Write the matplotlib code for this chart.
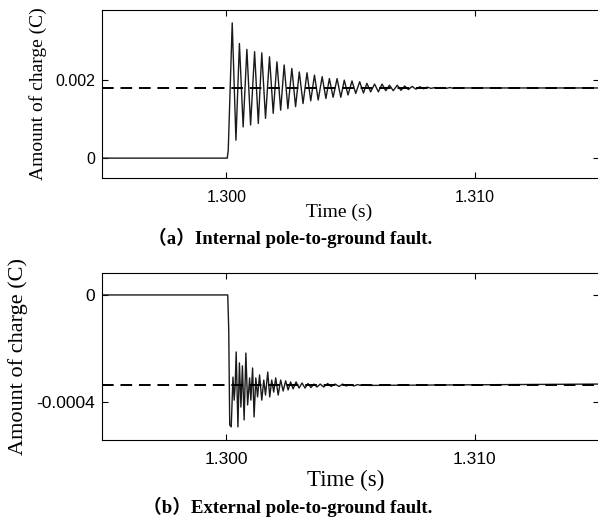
import numpy as np
import matplotlib
matplotlib.use('Agg')
import matplotlib.pyplot as plt

# ---- (a) internal fault: step to 0.0018 C then damped ringing ----
a_pre_t = [1.295, 1.30004, 1.30008]
a_pre_q = [0.0, 0.0, 0.0002]
a_peak_t = [1.30024, 1.30053, 1.30083, 1.30114, 1.30143, 1.30174, 1.30204, 1.30233,
            1.30264, 1.30294, 1.30325, 1.30355, 1.30386, 1.30415, 1.30446, 1.30475,
            1.30506, 1.30537, 1.30566, 1.30597, 1.30627, 1.30657, 1.30688, 1.30718,
            1.30748, 1.30779, 1.30809, 1.30839, 1.30870, 1.30900]
a_peak_q = [0.00347, 0.00294, 0.00279, 0.00273, 0.00270, 0.00260, 0.00247, 0.00239,
            0.00230, 0.00221, 0.00219, 0.00213, 0.00209, 0.00204, 0.00204, 0.00200,
            0.00198, 0.00196, 0.00192, 0.00190, 0.00190, 0.00187, 0.00187, 0.00185,
            0.00184, 0.00183, 0.00182, 0.00181, 0.00181, 0.00181]
a_trough_t = [1.30039, 1.30068, 1.30098, 1.30129, 1.30158, 1.30189, 1.30219, 1.30248,
              1.30279, 1.30309, 1.30340, 1.30370, 1.30401, 1.30430, 1.30461, 1.30490,
              1.30521, 1.30552, 1.30581, 1.30612, 1.30642, 1.30672, 1.30703, 1.30733,
              1.30763, 1.30794, 1.30824, 1.30854, 1.30885, 1.30915]
a_trough_q = [0.00046, 0.00080, 0.00085, 0.00089, 0.00102, 0.00115, 0.00123, 0.00127,
              0.00132, 0.00140, 0.00147, 0.00149, 0.00153, 0.00156, 0.00156, 0.00162,
              0.00166, 0.00167, 0.00170, 0.00170, 0.00173, 0.00173, 0.00174, 0.00176,
              0.00177, 0.00178, 0.00179, 0.00179, 0.00179, 0.00179]
a_post_t = [1.3093, 1.315]
a_post_q = [0.0018, 0.0018]
a_steady = 0.0018

# ---- (b) external fault: drop to -0.000336 C with irregular ringing ----
b_t = [1.295, 1.30006, 1.30010, 1.30014, 1.30020, 1.30027, 1.30032, 1.30036, 1.30040,
       1.30047, 1.30053, 1.30059, 1.30065, 1.30072, 1.30079, 1.30086, 1.30094, 1.30099,
       1.30106, 1.30112, 1.30119, 1.30126, 1.30134, 1.30143, 1.30151, 1.30158, 1.30167,
       1.30175, 1.30183, 1.30191, 1.30199, 1.30209, 1.30219, 1.30229, 1.30239, 1.30249,
       1.30259, 1.30269, 1.30281, 1.30293, 1.30305, 1.30317, 1.30329, 1.30341, 1.30353,
       1.30365, 1.30378, 1.30392, 1.30408, 1.30422, 1.30438, 1.30454, 1.30468, 1.30482,
       1.30498, 1.30514, 1.30528, 1.30542, 1.30558, 1.30574, 1.315]
b_q = [0.0, 0.0, -0.000131, -0.000486, -0.000493, -0.000307, -0.000393, -0.000336, -0.000213,
       -0.000493, -0.000254, -0.000419, -0.000265, -0.000467, -0.000217, -0.000411, -0.000310,
       -0.000393, -0.000273, -0.000456, -0.000310, -0.000381, -0.000299, -0.000393, -0.000318,
       -0.000374, -0.000288, -0.000381, -0.000318, -0.000363, -0.000310, -0.000374, -0.000318,
       -0.000359, -0.000321, -0.000355, -0.000325, -0.000351, -0.000325, -0.000348, -0.000329,
       -0.000348, -0.000331, -0.000346, -0.000333, -0.000344, -0.000333, -0.000344, -0.000331,
       -0.000342, -0.000333, -0.000342, -0.000333, -0.000340, -0.000335, -0.000340, -0.000335,
       -0.000338, -0.000335, -0.000338, -0.000333]
b_steady = -0.000336

xticks = [1.300, 1.310]
xticklabels = ['1.300', '1.310']

# interleave peaks and troughs of (a)
ring_t = np.ravel(np.column_stack([a_peak_t, a_trough_t]))
ring_q = np.ravel(np.column_stack([a_peak_q, a_trough_q]))
a_t = np.concatenate([a_pre_t, ring_t, a_post_t])
a_q = np.concatenate([a_pre_q, ring_q, a_post_q])

sans = 'Liberation Sans'
serif = 'Liberation Serif'
cap_family = [serif, 'Noto Sans CJK SC']

fig = plt.figure(figsize=(5.98, 5.21), dpi=100)

def style_axes(ax, fs):
    ax.set_xlim(1.295, 1.315)
    ax.set_xticks(xticks)
    ax.set_xticklabels(xticklabels)
    ax.tick_params(direction='in', top=True, right=True, length=4, width=0.8,
                   labelsize=fs, pad=9)
    for lab in ax.get_xticklabels() + ax.get_yticklabels():
        lab.set_family(sans)
    for sp in ax.spines.values():
        sp.set_linewidth(0.8)

ax1 = fig.add_axes([102/598, 1-178/521, 497/598, 168/521])
ax1.plot(a_t, a_q, color='0.1', lw=1.0)
ax1.axhline(a_steady, color='k', lw=1.4, dashes=(6, 3.5))
ax1.set_ylim(-0.00051, 0.0038)
ax1.set_yticks([0, 0.002])
ax1.set_yticklabels(['0', '0.002'])
style_axes(ax1, 11.5)
ax1.tick_params(axis='y', pad=5)
ax1.set_ylabel('Amount of charge (C)', family=serif, fontsize=14, labelpad=6)

ax2 = fig.add_axes([102/598, 1-440/521, 497/598, 167/521])
ax2.plot(b_t, b_q, color='0.1', lw=1.0)
ax2.axhline(b_steady, color='k', lw=1.4, dashes=(6, 3.5))
ax2.set_ylim(-0.000542, 0.000082)
ax2.set_yticks([-0.0004, 0])
ax2.set_yticklabels(['-0.0004', '0'])
style_axes(ax2, 12.5)
ax2.tick_params(axis='y', pad=5)
ax2.set_ylabel('Amount of charge (C)', family=serif, fontsize=16, labelpad=6)

fig.text(339/598, 1-212/521, 'Time (s)', family=serif, fontsize=14, ha='center', va='center')
fig.text(346/598, 1-480/521, 'Time (s)', family=serif, fontsize=16.5, ha='center', va='center')
fig.text(290/598, 1-238/521, '（a）Internal pole-to-ground fault.', family=cap_family,
         fontsize=13.5, fontweight='bold', ha='center', va='center')
fig.text(288/598, 1-507/521, '（b）External pole-to-ground fault.', family=cap_family,
         fontsize=13.5, fontweight='bold', ha='center', va='center')

fig.savefig('out.png', dpi=100)
